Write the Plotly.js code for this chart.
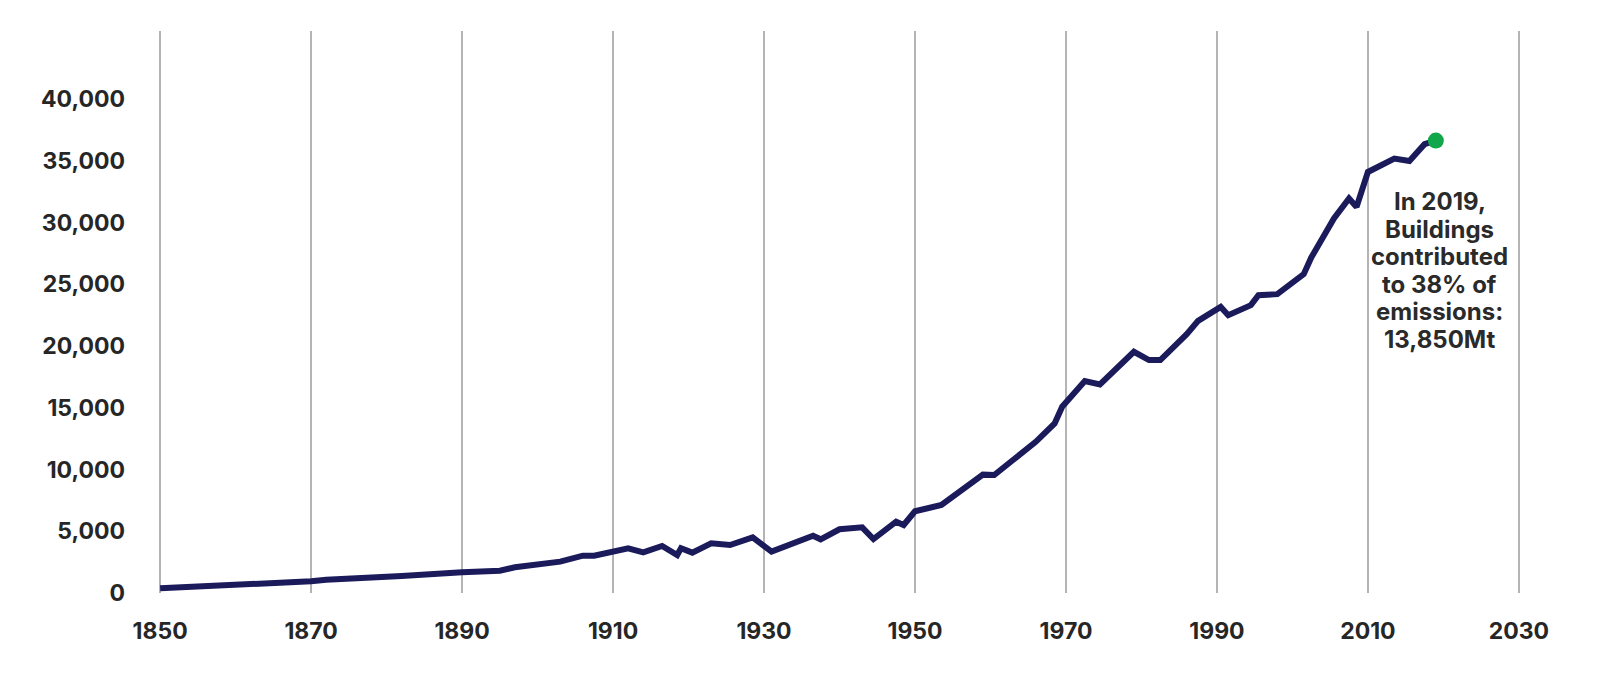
<!DOCTYPE html>
<html>
<head>
<meta charset="utf-8">
<script src="https://cdn.plot.ly/plotly-3.0.1.min.js"></script>
<style>
html,body{margin:0;padding:0;background:#fff;}
#chart{width:1600px;height:686px;}
</style>
</head>
<body>
<div id="chart"></div>
<script>
// Global CO2 emissions (Mt)
const years = [1850, 1867, 1870, 1872, 1880, 1882, 1890, 1895, 1897, 1903,
  1906, 1907.5, 1912, 1914, 1916.5, 1918.5, 1919, 1920.5, 1923, 1925.5,
  1928.5, 1931, 1936.5, 1937.5, 1940, 1943, 1944.5, 1947.5, 1948.5, 1950,
  1953.5, 1959, 1960.5, 1966, 1968.5, 1969.5, 1972.5, 1974.5, 1979, 1981,
  1982.5, 1986, 1987.5, 1990.5, 1991.5, 1994.5, 1995.5, 1998, 2001.5, 2002.5,
  2005.5, 2007.5, 2008.5, 2010, 2013.5, 2015.5, 2017.5, 2018.5, 2019];
const emissions = [380, 800, 950, 1080, 1280, 1380, 1680, 1810, 2080, 2540,
  3020, 3020, 3620, 3290, 3810, 3080, 3620, 3270, 4020, 3890,
  4510, 3350, 4640, 4350, 5160, 5320, 4370, 5780, 5510, 6620,
  7130, 9590, 9560, 12250, 13740, 15090, 17170, 16900, 19540, 18870,
  18870, 20970, 22050, 23180, 22510, 23320, 24130, 24210, 25830, 27180,
  30340, 31960, 31280, 34110, 35200, 35000, 36360, 36540, 36650];
const highlightYear = [2019];
const highlightValue = [36650];
const xTicks = [1850, 1870, 1890, 1910, 1930, 1950, 1970, 1990, 2010, 2030];
const yTicks = [0, 5000, 10000, 15000, 20000, 25000, 30000, 35000, 40000];
const yTickText = ["0", "5,000", "10,000", "15,000", "20,000", "25,000", "30,000", "35,000", "40,000"];
const noteLines = ["In 2019,", "Buildings", "contributed", "to 38% of", "emissions:", "13,850Mt"];

const FONT = "Inter, 'Open Sans', sans-serif";

const traces = [
  {
    x: years, y: emissions, type: 'scatter', mode: 'lines',
    line: {color: '#1b1b5c', width: 6, shape: 'linear'},
    hoverinfo: 'skip', showlegend: false
  },
  {
    x: highlightYear, y: highlightValue, type: 'scatter', mode: 'markers',
    marker: {color: '#12a64b', size: 16, line: {width: 0}},
    hoverinfo: 'skip', showlegend: false
  }
];

const annotations = noteLines.map((t, i) => ({
  x: 2019.5, y: 31680, xref: 'x', yref: 'y',
  text: t, showarrow: false, xanchor: 'center', yanchor: 'middle',
  yshift: -i * 27.5,
  font: {family: FONT, size: 24, color: '#2a2a2a', weight: 700}
}));

const layout = {
  width: 1600, height: 686,
  margin: {l: 159, r: 80, t: 31, b: 93, pad: 0},
  paper_bgcolor: '#ffffff', plot_bgcolor: '#ffffff',
  showlegend: false,
  xaxis: {
    range: [1849.85, 2030.15], tickvals: xTicks, ticktext: xTicks.map(String),
    showgrid: true, gridcolor: '#b4b4b4', gridwidth: 1.5,
    zeroline: false, showline: false, ticks: '',
    ticklabelstandoff: 22,
    tickfont: {family: FONT, size: 23, color: '#262626', weight: 700}
  },
  yaxis: {
    range: [0, 45530], tickvals: yTicks, ticktext: yTickText,
    showgrid: false, zeroline: false, showline: false, ticks: '',
    ticklabelstandoff: 33,
    tickfont: {family: FONT, size: 23, color: '#262626', weight: 700}
  },
  annotations: annotations
};

Plotly.newPlot('chart', traces, layout, {displayModeBar: false, staticPlot: true});
</script>
</body>
</html>
